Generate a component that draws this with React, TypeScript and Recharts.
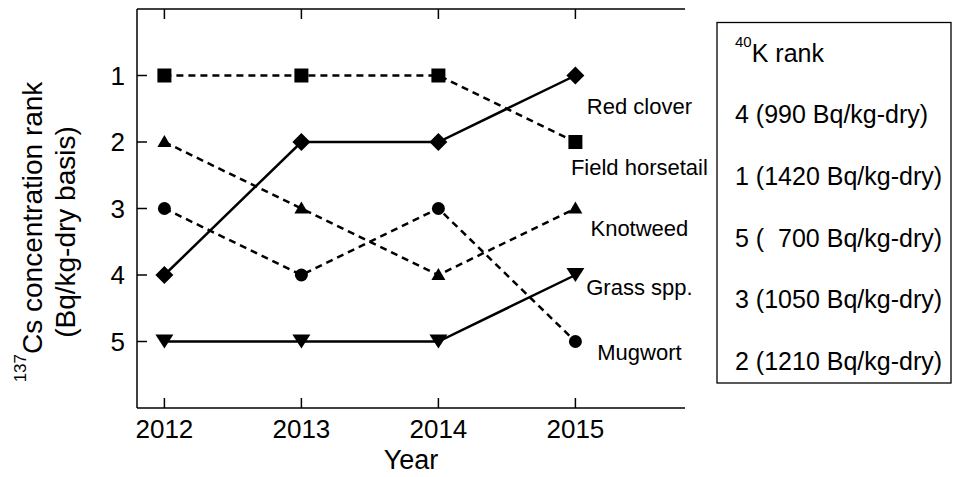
import React from 'react';
import { LineChart, Line, XAxis, YAxis, LabelList } from 'recharts';

// ranks of 137Cs concentration per year (1 = highest)
const years = [2012, 2013, 2014, 2015];
const redClover = [4, 2, 2, 1];
const fieldHorsetail = [1, 1, 1, 2];
const knotweed = [2, 3, 4, 3];
const grassSpp = [5, 5, 5, 4];
const mugwort = [3, 4, 3, 5];

const yearTicks = [2012, 2013, 2014, 2015];
const rankTicks = [1, 2, 3, 4, 5];

// 40K rank box (same species order as the series)
const kRanks = [4, 1, 5, 3, 2];
const kValueText = ['990', '1420', '  700', '1050', '1210'];

const FONT = '"Liberation Sans", Arial, Helvetica, sans-serif';

const series = [
  { key: 'redClover', name: 'Red clover', values: redClover, dashed: false, marker: 'diamond' },
  { key: 'fieldHorsetail', name: 'Field horsetail', values: fieldHorsetail, dashed: true, marker: 'square' },
  { key: 'knotweed', name: 'Knotweed', values: knotweed, dashed: true, marker: 'triangleUp' },
  { key: 'grassSpp', name: 'Grass spp.', values: grassSpp, dashed: false, marker: 'triangleDown' },
  { key: 'mugwort', name: 'Mugwort', values: mugwort, dashed: true, marker: 'circle' },
];

// where the end-of-line names sit relative to the 2015 point
const labelOffsets: Record<string, { dx: number; dy: number }> = {
  redClover: { dx: 64, dy: 38 },
  fieldHorsetail: { dx: 64, dy: 33 },
  knotweed: { dx: 64, dy: 27 },
  grassSpp: { dx: 64, dy: 20 },
  mugwort: { dx: 64, dy: 18 },
};

const data = years.map((year, i) => {
  const row: Record<string, number> = { year };
  series.forEach((s) => {
    row[s.key] = s.values[i];
  });
  return row;
});

const makeDot = (marker: string) => (props: any) => {
  const { cx, cy, index } = props;
  const k = `dot-${marker}-${index}`;
  if (cx == null || cy == null) return <g key={k} />;
  if (marker === 'square') {
    return <rect key={k} x={cx - 7} y={cy - 7} width={14} height={14} fill="#000" />;
  }
  if (marker === 'diamond') {
    return (
      <polygon key={k} points={`${cx},${cy - 9} ${cx + 9},${cy} ${cx},${cy + 9} ${cx - 9},${cy}`} fill="#000" />
    );
  }
  if (marker === 'triangleUp') {
    return (
      <polygon key={k} points={`${cx},${cy - 7} ${cx + 7},${cy + 5} ${cx - 7},${cy + 5}`} fill="#000" />
    );
  }
  if (marker === 'triangleDown') {
    return (
      <polygon key={k} points={`${cx - 9},${cy - 7} ${cx + 9},${cy - 7} ${cx},${cy + 7}`} fill="#000" />
    );
  }
  return <circle key={k} cx={cx} cy={cy} r={6.5} fill="#000" />;
};

const makeEndLabel = (text: string, dx: number, dy: number) => (props: any) => {
  const { x, y, index } = props;
  if (index !== years.length - 1) return null;
  return (
    <text x={x + dx} y={y + dy} textAnchor="middle" fontSize={22} fontFamily={FONT} fill="#000">
      {text}
    </text>
  );
};

const BottomTick = ({ x, y, payload }: any) => (
  <g>
    <line x1={x} y1={y} x2={x} y2={y - 10} stroke="#000" strokeWidth={1.5} />
    <text x={x} y={y + 30} textAnchor="middle" fontSize={26} fontFamily={FONT} fill="#000">
      {payload.value}
    </text>
  </g>
);

const TopTick = ({ x, y }: any) => <line x1={x} y1={y} x2={x} y2={y + 10} stroke="#000" strokeWidth={1.5} />;

const LeftTick = ({ x, y, payload }: any) => (
  <g>
    <line x1={x} y1={y} x2={x + 10} y2={y} stroke="#000" strokeWidth={1.5} />
    <text x={x - 12} y={y + 9} textAnchor="end" fontSize={26} fontFamily={FONT} fill="#000">
      {payload.value}
    </text>
  </g>
);

const YTitle = ({ viewBox }: any) => {
  const cy = viewBox.y + 223;
  const x1 = viewBox.x + 42;
  const x2 = viewBox.x + 75;
  return (
    <g fontFamily={FONT} fill="#000">
      <text x={x1} y={cy} textAnchor="middle" transform={`rotate(-90 ${x1} ${cy})`} fontSize={28}>
        <tspan fontSize={17} dy={-16}>137</tspan>
        <tspan dy={16}>Cs concentration rank</tspan>
      </text>
      <text x={x2} y={cy} textAnchor="middle" transform={`rotate(-90 ${x2} ${cy})`} fontSize={28}>
        (Bq/kg-dry basis)
      </text>
    </g>
  );
};

const XTitle = ({ viewBox }: any) => (
  <text
    x={viewBox.x + viewBox.width / 2}
    y={viewBox.y + 61}
    textAnchor="middle"
    fontSize={27}
    fontFamily={FONT}
    fill="#000"
  >
    Year
  </text>
);

const KBox = () => (
  <svg
    width={953}
    height={477}
    style={{ position: 'absolute', left: 0, top: 0, pointerEvents: 'none' }}
  >
    <rect x={717} y={22.5} width={234} height={360.5} fill="none" stroke="#000" strokeWidth={1.3} />
    <text x={735} y={62} fontSize={25} fontFamily={FONT} fill="#000">
      <tspan fontSize={15} dy={-15}>40</tspan>
      <tspan dy={15}>K rank</tspan>
    </text>
    {kRanks.map((r, i) => (
      <text
        key={i}
        x={735}
        y={123 + i * 61.75}
        fontSize={25}
        fontFamily={FONT}
        fill="#000"
        style={{ whiteSpace: 'pre' }}
      >
        {`${r} (${kValueText[i]} Bq/kg-dry)`}
      </text>
    ))}
  </svg>
);

export default function App() {
  return (
    <div style={{ position: 'absolute', left: 0, top: 0, width: 953, height: 477, background: '#fff' }}>
      <LineChart width={953} height={477} data={data} margin={{ top: 0, right: 268, bottom: 0, left: 0 }}>
        <XAxis
          xAxisId="top"
          orientation="top"
          dataKey="year"
          type="number"
          domain={[2011.8, 2015.8]}
          allowDataOverflow
          ticks={yearTicks}
          height={9}
          tickSize={0}
          tickMargin={0}
          tickLine={false}
          tick={<TopTick />}
          axisLine={{ stroke: '#000', strokeWidth: 1.5 }}
        />
        <XAxis
          dataKey="year"
          type="number"
          domain={[2011.8, 2015.8]}
          allowDataOverflow
          ticks={yearTicks}
          height={69}
          tickSize={0}
          tickMargin={0}
          tickLine={false}
          tick={<BottomTick />}
          axisLine={{ stroke: '#000', strokeWidth: 1.5 }}
          label={{ content: (p: any) => <XTitle {...p} /> }}
        />
        <YAxis
          type="number"
          domain={[0, 6]}
          allowDataOverflow
          reversed
          ticks={rankTicks}
          width={137}
          tickSize={0}
          tickMargin={0}
          tickLine={false}
          tick={<LeftTick />}
          axisLine={{ stroke: '#000', strokeWidth: 1.5 }}
          label={{ content: (p: any) => <YTitle {...p} /> }}
        />
        {series.map((s) => (
          <Line
            key={s.key}
            dataKey={s.key}
            name={s.name}
            type="linear"
            stroke="#000"
            strokeWidth={2.5}
            strokeDasharray={s.dashed ? '7 5' : undefined}
            dot={makeDot(s.marker)}
            activeDot={false}
            isAnimationActive={false}
          >
            <LabelList
              dataKey={s.key}
              content={makeEndLabel(s.name, labelOffsets[s.key].dx, labelOffsets[s.key].dy)}
            />
          </Line>
        ))}
      </LineChart>
      <KBox />
    </div>
  );
}
